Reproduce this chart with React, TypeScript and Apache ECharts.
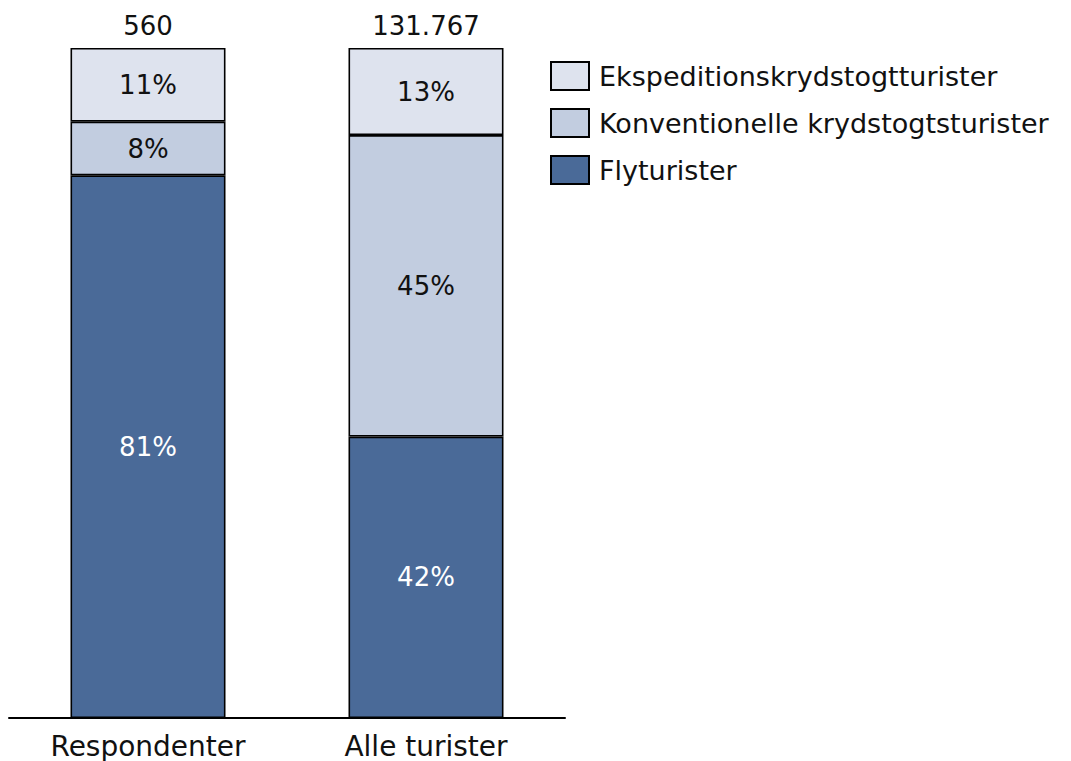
import React, { useEffect, useRef } from "react";
import * as echarts from "echarts";

const categories = ["Respondenter", "Alle turister"];
const totals = ["560", "131.767"];
const flyturister = [81, 42];
const konventionelle = [8, 45];
const ekspedition = [11, 13];
const seriesNames = ["Ekspeditionskrydstogtturister", "Konventionelle krydstogtsturister", "Flyturister"];

const FONT = "'DejaVu Sans', sans-serif";

export default function App() {
  const ref = useRef<HTMLDivElement>(null);
  useEffect(() => {
    if (!ref.current) return;
    const chart = echarts.init(ref.current, null, { renderer: "svg" });
    const lbl = (color: string) => ({
      show: true,
      position: "inside" as const,
      formatter: "{c}%",
      color,
      fontSize: 26,
      fontFamily: FONT,
    });
    chart.setOption({
      animation: false,
      textStyle: { fontFamily: FONT },
      grid: { left: 9, right: 506, top: 48, bottom: 43, containLabel: false },
      legend: {
        data: seriesNames,
        orient: "vertical",
        left: 545,
        top: 56,
        itemWidth: 38,
        itemHeight: 28,
        itemGap: 17,
        icon: "rect",
        textStyle: { fontSize: 27, color: "#111", fontFamily: FONT, padding: [0, 0, 0, 5] },
      },
      xAxis: {
        type: "category",
        data: categories,
        axisLine: { show: true, lineStyle: { color: "#000", width: 2 } },
        axisTick: { show: false },
        axisLabel: { fontSize: 28, color: "#111", margin: 14, fontFamily: FONT },
      },
      yAxis: { type: "value", min: 0, max: 100, show: false, splitLine: { show: false } },
      series: [
        {
          name: seriesNames[2],
          type: "bar",
          stack: "s",
          barWidth: 155,
          data: flyturister,
          itemStyle: { color: "#4a6a98", borderColor: "#000", borderWidth: 1.6 },
          label: lbl("#fff"),
        },
        {
          name: seriesNames[1],
          type: "bar",
          stack: "s",
          data: konventionelle,
          itemStyle: { color: "#c2cde0", borderColor: "#000", borderWidth: 1.6 },
          label: lbl("#111"),
        },
        {
          name: seriesNames[0],
          type: "bar",
          stack: "s",
          data: ekspedition,
          itemStyle: { color: "#dee3ee", borderColor: "#000", borderWidth: 1.6 },
          label: lbl("#111"),
        },
        {
          name: "total",
          type: "bar",
          stack: "s",
          data: [0, 0],
          itemStyle: { color: "transparent", borderWidth: 0 },
          label: {
            show: true,
            position: "top",
            distance: 9,
            fontSize: 26,
            color: "#111",
            fontFamily: FONT,
            formatter: (p: any) => totals[p.dataIndex],
          },
        },
      ],
    });
    return () => chart.dispose();
  }, []);
  return <div ref={ref} style={{ width: 1071, height: 761, position: "absolute", left: 0, top: 0 }} />;
}
